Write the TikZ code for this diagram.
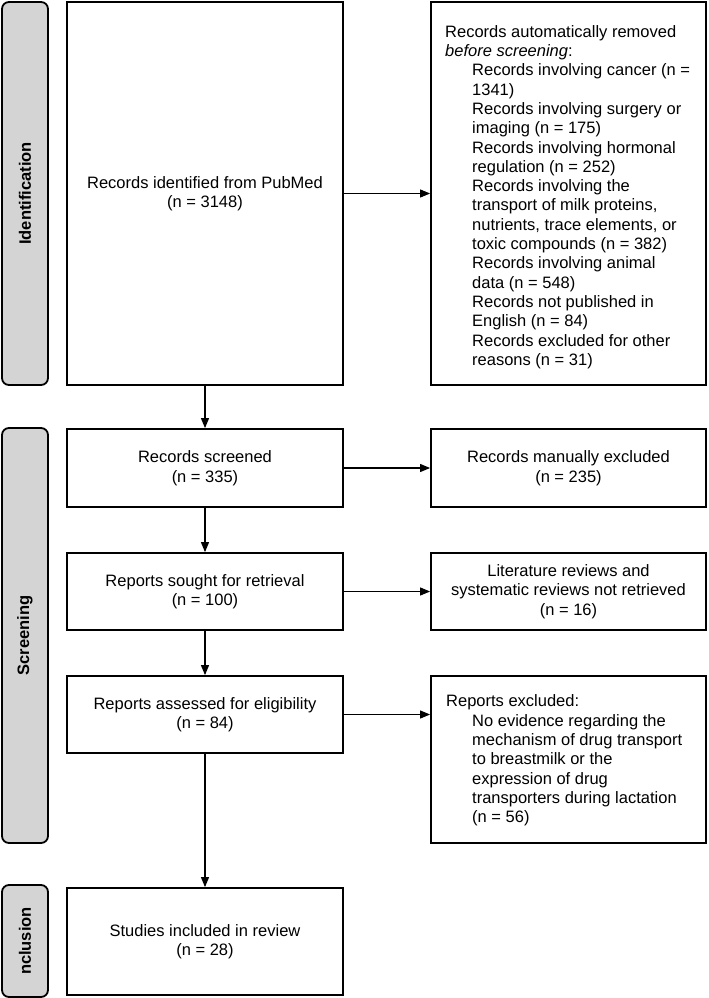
\documentclass[tikz,border=0pt]{standalone}
\usepackage{fontspec}
\setmainfont{Liberation Sans}
\usetikzlibrary{arrows.meta}
\tikzset{
  box/.style={draw=black, line width=1.8pt, fill=white, inner sep=0pt, align=center,
    font=\fontsize{16.5}{19.5}\selectfont},
  side/.style={draw=black, line width=1.8pt, fill=black!17, rounded corners=7pt,
    minimum width=46pt, inner sep=0pt},
  sidelabel/.style={rotate=90, font=\fontsize{16.5}{19.5}\selectfont\bfseries},
  txt/.style={inner sep=0pt, align=left, anchor=west, font=\fontsize{16.5}{19.3}\selectfont},
  arr/.style={line width=1.1pt, -{Triangle[length=10pt,width=8pt]}}
}
\begin{document}
\begin{tikzpicture}[x=1pt,y=-1pt]
\useasboundingbox (0,0) rectangle (709,998);
% sidebars
\node[side, minimum height=383pt] (sid) at (25,193.5) {};
\node[sidelabel] (sidt) at (sid.center) {Identification};
\node[side, minimum height=415pt] (ssc) at (25,635.5) {};
\node[sidelabel] (ssct) at (ssc.center) {Screening};
\node[side, minimum height=112pt] (sin) at (25,941) {};
\node[sidelabel] (sint) at (sin.center) {nclusion};
% main column
\node[box, minimum width=276pt, minimum height=383pt] (id) at (205,193.5) {Records identified from PubMed\\(n = 3148)};
\node[box, minimum width=276pt, minimum height=78pt] (scr) at (205,468) {Records screened\\(n = 335)};
\node[box, minimum width=276pt, minimum height=77pt] (sou) at (205,591.5) {Reports sought for retrieval\\(n = 100)};
\node[box, minimum width=276pt, minimum height=77pt] (ass) at (205,714.5) {Reports assessed for eligibility\\(n = 84)};
\node[box, minimum width=276pt, minimum height=107pt] (inc) at (205,941.5) {Studies included in review\\(n = 28)};
% right column
\node[box, minimum width=275pt, minimum height=383pt] (auto) at (568.5,193.5) {};
\node[txt] (autot) at (445,197) {Records automatically removed\\
\textit{before screening}:\\
\hspace*{27pt}Records involving cancer (n =\\
\hspace*{27pt}1341)\\
\hspace*{27pt}Records involving surgery or\\
\hspace*{27pt}imaging (n = 175)\\
\hspace*{27pt}Records involving hormonal\\
\hspace*{27pt}regulation (n = 252)\\
\hspace*{27pt}Records involving the\\
\hspace*{27pt}transport of milk proteins,\\
\hspace*{27pt}nutrients, trace elements, or\\
\hspace*{27pt}toxic compounds (n = 382)\\
\hspace*{27pt}Records involving animal\\
\hspace*{27pt}data (n = 548)\\
\hspace*{27pt}Records not published in\\
\hspace*{27pt}English (n = 84)\\
\hspace*{27pt}Records excluded for other\\
\hspace*{27pt}reasons (n = 31)};
\node[box, minimum width=275pt, minimum height=78pt] (man) at (568.5,468) {Records manually excluded\\(n = 235)};
\node[box, minimum width=275pt, minimum height=77pt] (ret) at (568.5,591.5) {Literature reviews and\\systematic reviews not retrieved\\(n = 16)};
\node[box, minimum width=275pt, minimum height=167pt] (exc) at (568.5,759.5) {};
\node[txt] (exct) at (446,760.5) {Reports excluded:\\
\hspace*{26pt}No evidence regarding the\\
\hspace*{26pt}mechanism of drug transport\\
\hspace*{26pt}to breastmilk or the\\
\hspace*{26pt}expression of drug\\
\hspace*{26pt}transporters during lactation\\
\hspace*{26pt}(n = 56)};
% connectors
\draw[arr] (id.east) -- (auto.west);
\draw[arr] (id.south) -- (scr.north);
\draw[arr] (scr.south) -- (sou.north);
\draw[arr] (sou.south) -- (ass.north);
\draw[arr] (ass.south) -- (inc.north);
\draw[arr] (scr.east) -- (man.west);
\draw[arr] (sou.east) -- (ret.west);
\draw[arr] (ass.east) -- (ass.east -| exc.west);
\end{tikzpicture}
\end{document}
